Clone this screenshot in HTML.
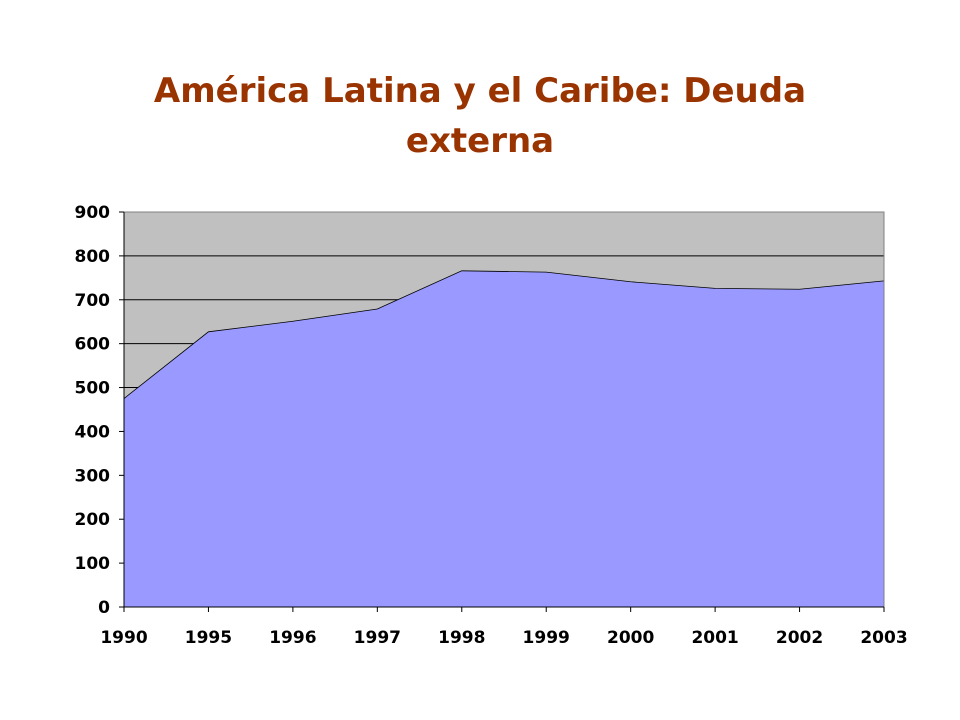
<!DOCTYPE html>
<html><head><meta charset="utf-8"><style>
body{margin:0;background:#fff;width:960px;height:720px;overflow:hidden}
.t{position:absolute;left:0;width:960px;text-align:center;font-family:"DejaVu Sans","Liberation Sans",sans-serif;font-weight:bold;font-size:34px;color:#993300;line-height:50px}
</style></head><body>
<div class="t" style="top:66px">América Latina y el Caribe: Deuda<br>externa</div>
<svg id="c" width="960" height="720" style="position:absolute;left:0;top:0"></svg>
<script>
const categories=["1990","1995","1996","1997","1998","1999","2000","2001","2002","2003"];
const values=[475,627,651,679,766,763,741,726,724,743];
const yTicks=[0,100,200,300,400,500,600,700,800,900];
const L=124,R=884,T=212,B=607,yMax=900;
const svg=document.getElementById('c');
const NS="http://www.w3.org/2000/svg";
const x=i=>L+(R-L)*i/(categories.length-1);
const y=v=>B-(B-T)*v/yMax;
function mk(tag,attrs,name){const e=document.createElementNS(NS,tag);for(const k in attrs)e.setAttribute(k,attrs[k]);


svg.appendChild(e);return e;}
mk('rect',{x:L,y:T,width:R-L,height:B-T,fill:'#c0c0c0'},'plot-area');
yTicks.forEach(v=>{if(v>0&&v<yMax)mk('line',{x1:L,x2:R,y1:y(v),y2:y(v),stroke:'#000','stroke-width':1},'gridline');});
let d='M'+x(0)+','+B;values.forEach((v,i)=>d+=' L'+x(i)+','+y(v));d+=' L'+x(values.length-1)+','+B+' Z';
mk('path',{d:d,fill:'#9999ff',stroke:'none'},'area-series');
let ld='';values.forEach((v,i)=>ld+=(i?' L':'M')+x(i)+','+y(v));
mk('path',{d:ld,fill:'none',stroke:'#000','stroke-width':0.8},'area-outline');
mk('rect',{x:L,y:T,width:R-L,height:B-T,fill:'none',stroke:'#808080','stroke-width':1},'plot-border');
mk('line',{x1:L,x2:L,y1:T,y2:B,stroke:'#000','stroke-width':1},'y-axis');
mk('line',{x1:L,x2:R,y1:B,y2:B,stroke:'#000','stroke-width':1},'x-axis');
yTicks.forEach(v=>{mk('line',{x1:L-5,x2:L,y1:y(v),y2:y(v),stroke:'#000'},'y-tick');
const t=mk('text',{x:L-14,y:y(v)+6,'text-anchor':'end','font-family':'DejaVu Sans,Liberation Sans,sans-serif','font-weight':'bold','font-size':17},'y-tick-label');t.textContent=v;});
categories.forEach((c,i)=>{mk('line',{x1:x(i),x2:x(i),y1:B,y2:B+5,stroke:'#000'},'x-tick');
const t=mk('text',{x:x(i),y:B+36,'text-anchor':'middle','font-family':'DejaVu Sans,Liberation Sans,sans-serif','font-weight':'bold','font-size':17},'x-tick-label');t.textContent=c;});
</script>
</body></html>
